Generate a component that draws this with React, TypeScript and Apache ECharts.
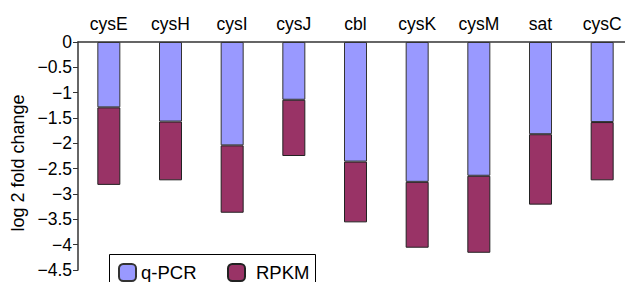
import React, { useEffect, useRef } from "react";
import * as echarts from "echarts";

const categories = ["cysE", "cysH", "cysI", "cysJ", "cbl", "cysK", "cysM", "sat", "cysC"];
const qpcr = [-1.29, -1.57, -2.04, -1.14, -2.36, -2.76, -2.64, -1.82, -1.58];
const rpkm = [-1.53, -1.16, -1.33, -1.11, -1.2, -1.3, -1.52, -1.39, -1.15];
const yTicks = { min: -4.5, max: 0, interval: 0.5 };

const FONT = "'Liberation Sans', Arial, sans-serif";

export default function App() {
  const ref = useRef<HTMLDivElement>(null);
  useEffect(() => {
    if (!ref.current) return;
    const chart = echarts.init(ref.current, undefined, { renderer: "svg" });
    chart.setOption({
      animation: false,
      backgroundColor: "#ffffff",
      textStyle: { fontFamily: FONT },
      grid: { left: 78, top: 42, bottom: 12, right: 0, containLabel: false },
      xAxis: {
        type: "category",
        position: "top",
        data: categories,
        axisTick: { show: false },
        axisLine: { show: true, lineStyle: { color: "#333", width: 1.5 } },
        axisLabel: { color: "#000", fontSize: 17.5, fontFamily: FONT, margin: 9 },
      },
      yAxis: {
        type: "value",
        min: yTicks.min,
        max: yTicks.max,
        interval: yTicks.interval,
        name: "log 2 fold change",
        nameLocation: "middle",
        nameGap: 50,
        nameTextStyle: {
          color: "#000",
          fontSize: 18,
          fontFamily: FONT,
          padding: [0, 14, 0, 0],
        },
        splitLine: { show: false },
        axisLine: { show: true, lineStyle: { color: "#333", width: 1.5 } },
        axisTick: { show: true, length: 5, inside: false, lineStyle: { color: "#333" } },
        axisLabel: {
          color: "#000",
          fontSize: 17.5,
          fontFamily: FONT,
          margin: 6,
          formatter: (v: number) => (v < 0 ? "\u2212" + String(Math.abs(v)) : String(v)),
        },
      },
      legend: [
        {
          data: ["q-PCR"],
          left: 118,
          top: 263,
          padding: 0,
          itemWidth: 17,
          itemHeight: 17,
          textStyle: { color: "#000", fontSize: 18.5, fontFamily: FONT },
        },
        {
          data: ["RPKM"],
          left: 227,
          top: 263,
          padding: 0,
          itemWidth: 17,
          itemHeight: 17,
          textStyle: { color: "#000", fontSize: 18.5, fontFamily: FONT, padding: [0, 0, 0, 6] },
        },
      ],
      graphic: [
        {
          type: "rect",
          left: 109,
          top: 254,
          z: -1,
          shape: { width: 206, height: 40 },
          style: { fill: "#fff", stroke: "#000", lineWidth: 1 },
        },
      ],
      series: [
        {
          name: "q-PCR",
          type: "bar",
          stack: "total",
          barWidth: 23,
          data: qpcr,
          itemStyle: { color: "#9999FF", borderColor: "#333", borderWidth: 1 },
        },
        {
          name: "RPKM",
          type: "bar",
          stack: "total",
          barWidth: 23,
          data: rpkm,
          itemStyle: { color: "#993366", borderColor: "#222", borderWidth: 1 },
        },
      ],
    });
    return () => chart.dispose();
  }, []);
  return (
    <div
      style={{
        position: "absolute",
        left: 0,
        top: 0,
        width: 625,
        height: 282,
        overflow: "hidden",
      }}
    >
      <div ref={ref} style={{ width: 633, height: 282 }} />
    </div>
  );
}
